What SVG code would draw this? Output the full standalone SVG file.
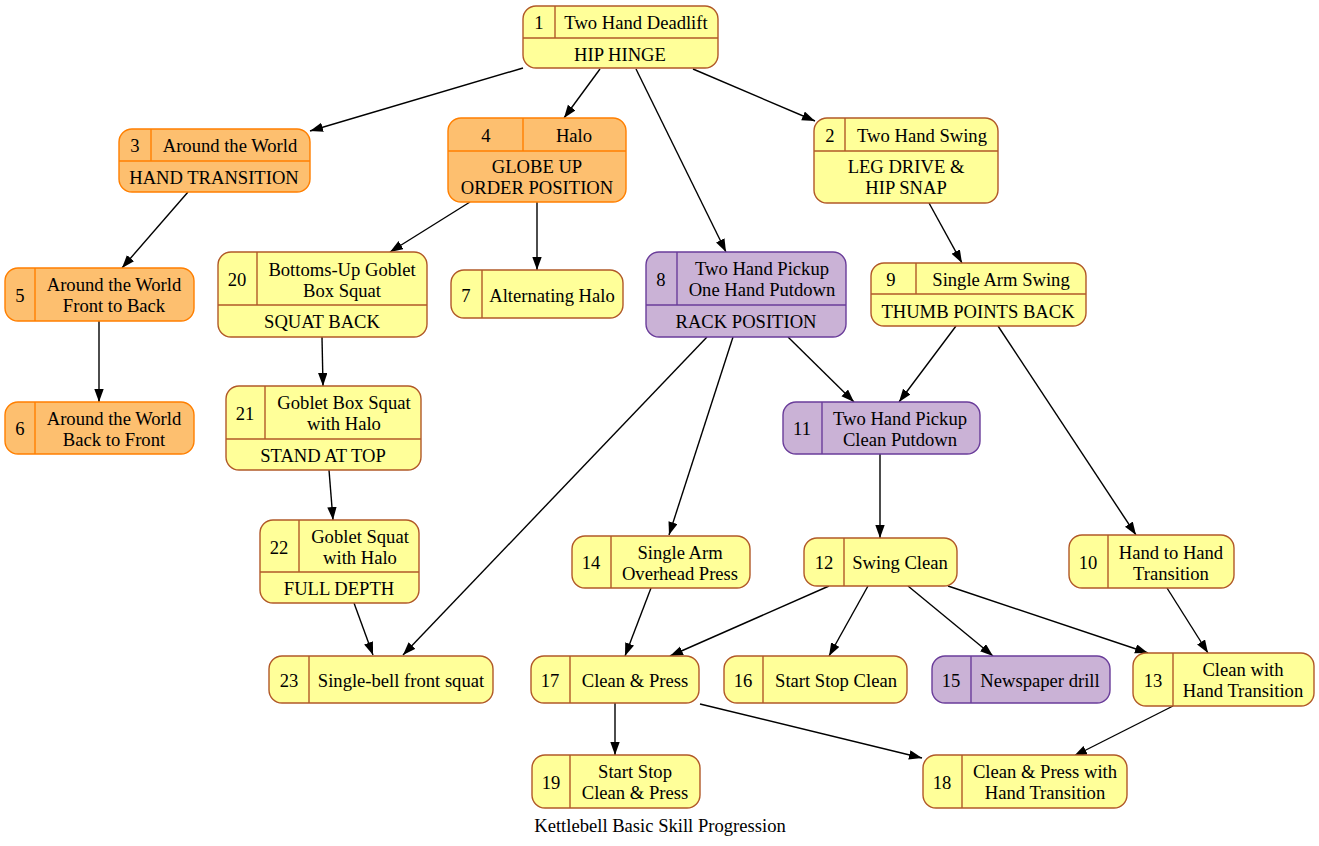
<svg xmlns="http://www.w3.org/2000/svg" width="1319" height="846" viewBox="0 0 1319 846">
<style>
text{font-family:"Liberation Serif","Times New Roman",serif;font-size:18.6px;fill:#000;text-anchor:middle}
.y rect{fill:#ffff99;stroke:#b15928;stroke-width:1.4}
.y line{stroke:#b15928;stroke-width:1.4}
.o rect{fill:#fdbf6f;stroke:#ff7f00;stroke-width:1.4}
.o line{stroke:#ff7f00;stroke-width:1.4}
.p rect{fill:#cab2d6;stroke:#6a3d9a;stroke-width:1.4}
.p line{stroke:#6a3d9a;stroke-width:1.4}
#edges line{stroke:#000;stroke-width:1.4;marker-end:url(#ah)}
</style>
<defs>
<marker id="ah" markerUnits="userSpaceOnUse" markerWidth="14" markerHeight="10" refX="13" refY="4.7" orient="auto">
<path d="M0,0 L13,4.7 L0,9.4 Z" fill="#000"/>
</marker>
</defs>
<rect width="1319" height="846" fill="#fff"/>
<g id="edges">
<line x1="523" y1="68" x2="310" y2="131"/>
<line x1="600" y1="69" x2="564" y2="118"/>
<line x1="636" y1="69" x2="726" y2="252"/>
<line x1="693" y1="69" x2="815" y2="121"/>
<line x1="188" y1="192" x2="122" y2="268"/>
<line x1="470" y1="202" x2="390" y2="252"/>
<line x1="537" y1="202" x2="537" y2="270"/>
<line x1="929" y1="203" x2="962" y2="263"/>
<line x1="99" y1="321" x2="99" y2="402"/>
<line x1="322" y1="337" x2="323" y2="386"/>
<line x1="329" y1="470" x2="333" y2="520"/>
<line x1="354" y1="603" x2="373" y2="655"/>
<line x1="707" y1="337" x2="403" y2="655"/>
<line x1="733" y1="337" x2="669" y2="535"/>
<line x1="788" y1="337" x2="854" y2="402"/>
<line x1="956" y1="326" x2="899" y2="402"/>
<line x1="998" y1="326" x2="1136" y2="535"/>
<line x1="880" y1="454" x2="880" y2="538"/>
<line x1="651" y1="588" x2="625" y2="656"/>
<line x1="829" y1="586" x2="670" y2="656"/>
<line x1="868" y1="586" x2="829" y2="656"/>
<line x1="908" y1="586" x2="993" y2="656"/>
<line x1="948" y1="586" x2="1148" y2="653"/>
<line x1="1167" y1="588" x2="1208" y2="653"/>
<line x1="615" y1="703" x2="615" y2="755"/>
<line x1="700" y1="704" x2="922" y2="758"/>
<line x1="1173" y1="706" x2="1074" y2="756"/>
</g>
<g id="n1" class="y">
<rect x="523" y="6" width="195" height="62" rx="13"/>
<line x1="555" y1="6" x2="555" y2="38"/><line x1="523" y1="38" x2="718" y2="38"/>
<text x="539" y="29">1</text><text x="636" y="29">Two Hand Deadlift</text>
<text x="620" y="61">HIP HINGE</text>
</g>
<g id="n2" class="y">
<rect x="814" y="118" width="184" height="85" rx="13"/>
<line x1="845" y1="118" x2="845" y2="151"/><line x1="814" y1="151" x2="998" y2="151"/>
<text x="830" y="142">2</text><text x="922" y="142">Two Hand Swing</text>
<text x="906" y="173">LEG DRIVE &amp;</text><text x="906" y="194">HIP SNAP</text>
</g>
<g id="n3" class="o">
<rect x="119" y="129" width="191" height="63" rx="13"/>
<line x1="151" y1="129" x2="151" y2="161"/><line x1="119" y1="161" x2="310" y2="161"/>
<text x="135" y="152">3</text><text x="230" y="152">Around the World</text>
<text x="214" y="184">HAND TRANSITION</text>
</g>
<g id="n4" class="o">
<rect x="448" y="118" width="178" height="84" rx="13"/>
<line x1="523" y1="118" x2="523" y2="151"/><line x1="448" y1="151" x2="626" y2="151"/>
<text x="486" y="142">4</text><text x="574" y="142">Halo</text>
<text x="537" y="173">GLOBE UP</text><text x="537" y="194">ORDER POSITION</text>
</g>
<g id="n5" class="o">
<rect x="5" y="268" width="189" height="53" rx="13"/>
<line x1="35" y1="268" x2="35" y2="321"/>
<text x="20" y="302">5</text><text x="114" y="291">Around the World</text><text x="114" y="312">Front to Back</text>
</g>
<g id="n6" class="o">
<rect x="5" y="402" width="189" height="52" rx="13"/>
<line x1="35" y1="402" x2="35" y2="454"/>
<text x="20" y="435">6</text><text x="114" y="425">Around the World</text><text x="114" y="446">Back to Front</text>
</g>
<g id="n7" class="y">
<rect x="451" y="270" width="172" height="48" rx="13"/>
<line x1="482" y1="270" x2="482" y2="318"/>
<text x="466" y="302">7</text><text x="552" y="302">Alternating Halo</text>
</g>
<g id="n8" class="p">
<rect x="646" y="252" width="200" height="85" rx="13"/>
<line x1="677" y1="252" x2="677" y2="305"/><line x1="646" y1="305" x2="846" y2="305"/>
<text x="661" y="286">8</text><text x="762" y="275">Two Hand Pickup</text><text x="762" y="296">One Hand Putdown</text>
<text x="746" y="328">RACK POSITION</text>
</g>
<g id="n9" class="y">
<rect x="871" y="263" width="215" height="63" rx="13"/>
<line x1="916" y1="263" x2="916" y2="294"/><line x1="871" y1="294" x2="1086" y2="294"/>
<text x="891" y="286">9</text><text x="1001" y="286">Single Arm Swing</text>
<text x="978" y="318">THUMB POINTS BACK</text>
</g>
<g id="n10" class="y">
<rect x="1069" y="535" width="165" height="53" rx="13"/>
<line x1="1108" y1="535" x2="1108" y2="588"/>
<text x="1088" y="569">10</text><text x="1171" y="559">Hand to Hand</text><text x="1171" y="580">Transition</text>
</g>
<g id="n11" class="p">
<rect x="783" y="402" width="197" height="52" rx="13"/>
<line x1="822" y1="402" x2="822" y2="454"/>
<text x="802" y="435">11</text><text x="900" y="425">Two Hand Pickup</text><text x="900" y="446">Clean Putdown</text>
</g>
<g id="n12" class="y">
<rect x="804" y="538" width="153" height="48" rx="13"/>
<line x1="844" y1="538" x2="844" y2="586"/>
<text x="824" y="569">12</text><text x="900" y="569">Swing Clean</text>
</g>
<g id="n13" class="y">
<rect x="1133" y="653" width="181" height="53" rx="13"/>
<line x1="1173" y1="653" x2="1173" y2="706"/>
<text x="1153" y="687">13</text><text x="1243" y="676">Clean with</text><text x="1243" y="697">Hand Transition</text>
</g>
<g id="n14" class="y">
<rect x="572" y="536" width="178" height="52" rx="13"/>
<line x1="611" y1="536" x2="611" y2="588"/>
<text x="591" y="569">14</text><text x="680" y="559">Single Arm</text><text x="680" y="580">Overhead Press</text>
</g>
<g id="n15" class="p">
<rect x="932" y="656" width="178" height="47" rx="13"/>
<line x1="971" y1="656" x2="971" y2="703"/>
<text x="951" y="687">15</text><text x="1040" y="687">Newspaper drill</text>
</g>
<g id="n16" class="y">
<rect x="724" y="656" width="183" height="47" rx="13"/>
<line x1="763" y1="656" x2="763" y2="703"/>
<text x="743" y="687">16</text><text x="836" y="687">Start Stop Clean</text>
</g>
<g id="n17" class="y">
<rect x="531" y="656" width="168" height="47" rx="13"/>
<line x1="570" y1="656" x2="570" y2="703"/>
<text x="550" y="687">17</text><text x="635" y="687">Clean &amp; Press</text>
</g>
<g id="n18" class="y">
<rect x="923" y="755" width="204" height="53" rx="13"/>
<line x1="962" y1="755" x2="962" y2="808"/>
<text x="942" y="789">18</text><text x="1045" y="778">Clean &amp; Press with</text><text x="1045" y="799">Hand Transition</text>
</g>
<g id="n19" class="y">
<rect x="532" y="755" width="168" height="53" rx="13"/>
<line x1="570" y1="755" x2="570" y2="808"/>
<text x="551" y="789">19</text><text x="635" y="778">Start Stop</text><text x="635" y="799">Clean &amp; Press</text>
</g>
<g id="n20" class="y">
<rect x="218" y="252" width="209" height="85" rx="13"/>
<line x1="257" y1="252" x2="257" y2="305"/><line x1="218" y1="305" x2="427" y2="305"/>
<text x="237" y="286">20</text><text x="342" y="276">Bottoms-Up Goblet</text><text x="342" y="297">Box Squat</text>
<text x="322" y="328">SQUAT BACK</text>
</g>
<g id="n21" class="y">
<rect x="226" y="386" width="195" height="84" rx="13"/>
<line x1="265" y1="386" x2="265" y2="439"/><line x1="226" y1="439" x2="421" y2="439"/>
<text x="245" y="420">21</text><text x="344" y="409">Goblet Box Squat</text><text x="344" y="430">with Halo</text>
<text x="323" y="462">STAND AT TOP</text>
</g>
<g id="n22" class="y">
<rect x="260" y="520" width="159" height="83" rx="13"/>
<line x1="299" y1="520" x2="299" y2="572"/><line x1="260" y1="572" x2="419" y2="572"/>
<text x="279" y="554">22</text><text x="360" y="543">Goblet Squat</text><text x="360" y="564">with Halo</text>
<text x="339" y="595">FULL DEPTH</text>
</g>
<g id="n23" class="y">
<rect x="269" y="656" width="224" height="47" rx="13"/>
<line x1="309" y1="656" x2="309" y2="703"/>
<text x="289" y="687">23</text><text x="401" y="687">Single-bell front squat</text>
</g>
<text x="660" y="832">Kettlebell Basic Skill Progression</text>
</svg>
